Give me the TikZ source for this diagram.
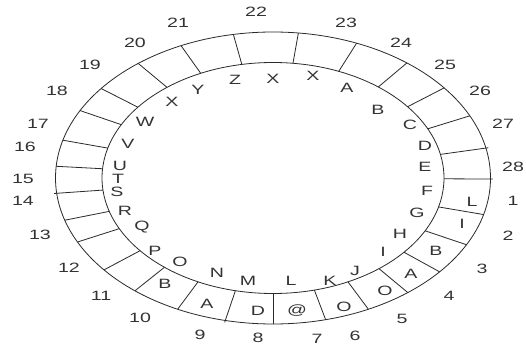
\documentclass[tikz,border=0pt]{standalone}
\usepackage{fontspec}
\setmainfont{Liberation Sans}
\definecolor{ink}{HTML}{333333}
\definecolor{ring}{HTML}{2A2A2A}
\newcommand{\stretchtxt}[1]{\scalebox{1.45}[1]{#1}}
\begin{document}
\begin{tikzpicture}[x=1pt,y=-1pt,
  lbl/.style={text=ink,inner sep=0pt,font=\fontsize{13.5}{16}\selectfont},
  ringline/.style={draw=ring,line width=0.8pt}]
\useasboundingbox (0,0) rectangle (526,347);
\fill[white] (0,0) rectangle (526,347);
% ring
\draw[ringline] (273,178) ellipse [x radius=217.5pt, y radius=146pt];
\draw[ringline] (273,178) ellipse [x radius=171pt, y radius=115.5pt];
\foreach \a in {100.5,115,128.3,142.2,152.5,165,175.4,196.8,206,219,230.6,244,270,284,296,308.3,320,332.8,345.5,38.1,52,67.4,83.3,25.2}
  \draw[ringline] ({273+171*cos(\a)},{178-115.5*sin(\a)}) -- ({273+217.5*cos(\a)},{178-146*sin(\a)});
\foreach \a in {186,257.3,359.6,11.8}
  \draw[ringline] ({273+171*cos(\a)},{178-115.5*sin(\a)}) -- ({273+220*cos(\a)},{178-148*sin(\a)});
% numbers
\foreach \t/\x/\y [count=\i] in {1/513/201,2/508/236,3/482/269,4/449/296,5/402/319,6/355/336,7/317/339,8/258/338,9/200/335,10/140/318,11/101/296,12/69/268,13/40/235,14/23/201,15/23/179,16/25/147,17/38/124,18/57/91,19/90/65,20/135/43,21/178/23,22/256/12,23/346/23,24/401/43,25/445/65,26/480/91,27/503/124,28/513/167}
  \node[lbl] (n\i) at (\x,\y) {\stretchtxt{\t}};
% letters inside the band
\foreach \t/\x/\y [count=\i] in {L/472/202,I/462/224,B/436/251,A/411/274,O/385/291,O/344/307,@/297/311,D/258/311,A/207/304,B/165/284}
  \node[lbl] (b\i) at (\x,\y) {\stretchtxt{\t}};
% letters inside the inner ring
\foreach \t/\x/\y [count=\i] in {X/273/79,X/313/76,A/347/88,B/378/110,C/410/125,D/425/146,E/425/167,F/427/191,G/417/213,H/400/234,I/383/252,J/355/271,K/330/281,L/291/281,M/248/281,N/217/273,O/180/262,P/155/251,Q/142/227,R/125/211,S/117/192,T/118/179,U/120/166,V/128/144,W/145/122,X/172/102,Y/198/90,Z/235/80}
  \node[lbl] (c\i) at (\x,\y) {\stretchtxt{\t}};
\end{tikzpicture}
\end{document}
